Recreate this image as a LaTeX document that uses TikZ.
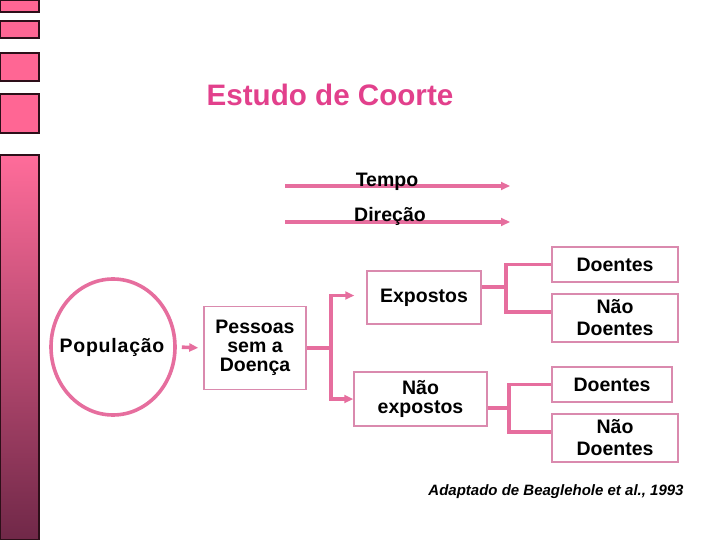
\documentclass[tikz,border=0pt]{standalone}
\usepackage{fontspec}
\setmainfont{Liberation Sans}
\usetikzlibrary{arrows.meta,shapes.geometric}
\definecolor{barpink}{RGB}{255,102,148}
\definecolor{bartop}{RGB}{255,108,154}
\definecolor{barmid}{RGB}{215,84,132}
\definecolor{barbot}{RGB}{112,40,72}
\definecolor{barline}{RGB}{45,15,25}
\definecolor{titlepink}{RGB}{226,64,140}
\definecolor{connpink}{RGB}{230,110,158}
\definecolor{boxpink}{RGB}{218,138,174}
\tikzset{
  bar/.style={fill=barpink, draw=barline, line width=1.2pt},
  conn/.style={draw=connpink, line width=3.6pt},
  arr/.style={-{Triangle[length=9pt,width=8pt]}},
  cbox/.style={draw=boxpink, line width=1.5pt, fill=white, align=center, inner sep=0pt,
    font=\bfseries\fontsize{19.5}{22}\selectfont},
  lbl/.style={font=\bfseries\fontsize{19.5}{22}\selectfont, inner sep=0pt},
}
\begin{document}
\begin{tikzpicture}[x=1pt,y=-1pt]
\useasboundingbox (0,0) rectangle (720,540);
% left decorative bars
\draw[bar] (0,0) rectangle (39,12);
\draw[bar] (0,21) rectangle (39,38);
\draw[bar] (0,53) rectangle (39,81);
\draw[bar] (0,94) rectangle (39,133);
\shade[top color=bartop, middle color=barmid, bottom color=barbot] (0,155) rectangle (39,540);
\draw[draw=barline, line width=1.2pt] (0,155) rectangle (39,540);
% title
\node[font=\bfseries\fontsize{29.6}{34}\selectfont, text=titlepink, inner sep=0pt] (title) at (330,95) {Estudo de Coorte};
% time / direction arrows
\coordinate (t0) at (285,186);
\coordinate (t1) at (510,186);
\coordinate (d0) at (285,222);
\coordinate (d1) at (510,222);
\draw[conn, arr] (t0) -- (t1);
\draw[conn, arr] (d0) -- (d1);
\node[lbl, anchor=base] (tempo) at (387,186.5) {Tempo};
\node[lbl, anchor=base] (direcao) at (390,222) {Direção};
% population
\node[draw=connpink, line width=3.6pt, ellipse, minimum width=124pt, minimum height=136pt, inner sep=0pt] (pop) at (113,347) {};
\node[lbl, font=\bfseries\fontsize{19.5}{22}\selectfont\addfontfeature{LetterSpace=4}] (poptxt) at (112,347) {População};
\node[cbox, minimum width=102pt, minimum height=83pt, font=\bfseries\fontsize{19.5}{18.7}\selectfont] (pes) at (255,348) {Pessoas\\sem a\\Doença};
\draw[conn, arr, shorten <=5pt, shorten >=5pt] (pop.east) -- (pes.west);
% exposure boxes
\node[cbox, minimum width=114pt, minimum height=53pt] (exp) at (424,297.5) {Expostos};
\node[cbox, minimum width=133pt, minimum height=54pt, font=\bfseries\fontsize{19.5}{19.5}\selectfont] (nexp) at (420.5,399) {Não\\expostos};
\coordinate (j1) at (331,348);
\draw[conn] (pes.east) -- (j1);
\draw[conn, arr, shorten >=12pt] (j1) |- ([yshift=2pt]exp.west);
\draw[conn, arr] (j1) |- (nexp.west);
% outcome boxes
\node[cbox, minimum width=126pt, minimum height=35pt] (do1) at (615,264.5) {Doentes};
\node[cbox, minimum width=126pt, minimum height=48pt] (nd1) at (615,318) {Não\\Doentes};
\node[cbox, minimum width=120pt, minimum height=35pt] (do2) at (612,384.5) {Doentes};
\node[cbox, minimum width=126pt, minimum height=48pt] (nd2) at (615,438) {Não\\Doentes};
\coordinate (j2) at (506,287);
\coordinate (j3) at (509,408);
\draw[conn] ([yshift=10.5pt]exp.east) -- (j2);
\draw[conn] (do1.west) -| (j2) |- ([yshift=6pt]nd1.west);
\draw[conn] ([yshift=-9pt]nexp.east) -- (j3);
\draw[conn] (do2.west) -| (j3) |- ([yshift=6pt]nd2.west);
% citation
\node[font=\bfseries\itshape\fontsize{15}{18}\selectfont, inner sep=0pt] (cite) at (556,492) {Adaptado de Beaglehole et al., 1993};
\end{tikzpicture}
\end{document}
